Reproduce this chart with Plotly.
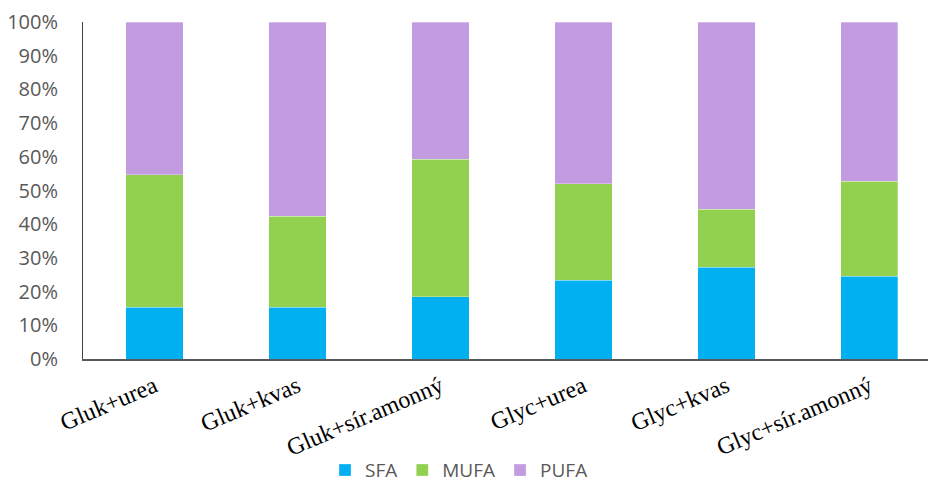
import plotly.graph_objects as go

categories = ["Gluk+urea", "Gluk+kvas", "Gluk+sír.amonný", "Glyc+urea", "Glyc+kvas", "Glyc+sír.amonný"]
sfa = [15.4, 15.4, 18.4, 23.4, 27.3, 24.6]
mufa = [39.3, 27.0, 40.9, 28.6, 17.1, 28.1]
pufa = [45.3, 57.6, 40.7, 48.0, 55.6, 47.3]

series = [("SFA", sfa, "#00B0F0"), ("MUFA", mufa, "#92D050"), ("PUFA", pufa, "#C39BE0")]

fig = go.Figure()
for name, vals, col in series:
    tot = [s + m + p for s, m, p in zip(sfa, mufa, pufa)]
    fig.add_trace(go.Bar(
        x=categories, y=[v / t for v, t in zip(vals, tot)], name=name,
        marker=dict(color=col, line=dict(color="rgba(255,255,255,0.6)", width=0.5)),
    ))

fig.update_layout(
    barmode="stack",
    bargap=0.6,
    width=928, height=488,
    margin=dict(l=83, r=0, t=22, b=129, autoexpand=False),
    plot_bgcolor="white", paper_bgcolor="white",
    font=dict(family="Open Sans", color="#595959"),
    showlegend=True,
    legend=dict(orientation="h", x=0.445, xanchor="center", y=-0.33, yanchor="middle",
                font=dict(size=19, color="#595959"), traceorder="normal", itemwidth=30,
                tracegroupgap=0),
)
fig.update_xaxes(
    range=[-0.5, 5.41], showline=True, linecolor="#595959", linewidth=2,
    tickangle=-23, tickfont=dict(family="Liberation Serif", size=24, color="black"),
    ticks="", ticklabelstandoff=2, showgrid=False, fixedrange=True, automargin=False,
)
fig.update_yaxes(
    range=[0, 1], dtick=0.1, tickformat=".0%", showline=True, linecolor="#404040", linewidth=1,
    tickfont=dict(family="Open Sans", size=20, color="#595959"), ticks="",
    ticklabelstandoff=20, showgrid=False, zeroline=False, fixedrange=True, automargin=False,
)

fig.write_html("out.html")
